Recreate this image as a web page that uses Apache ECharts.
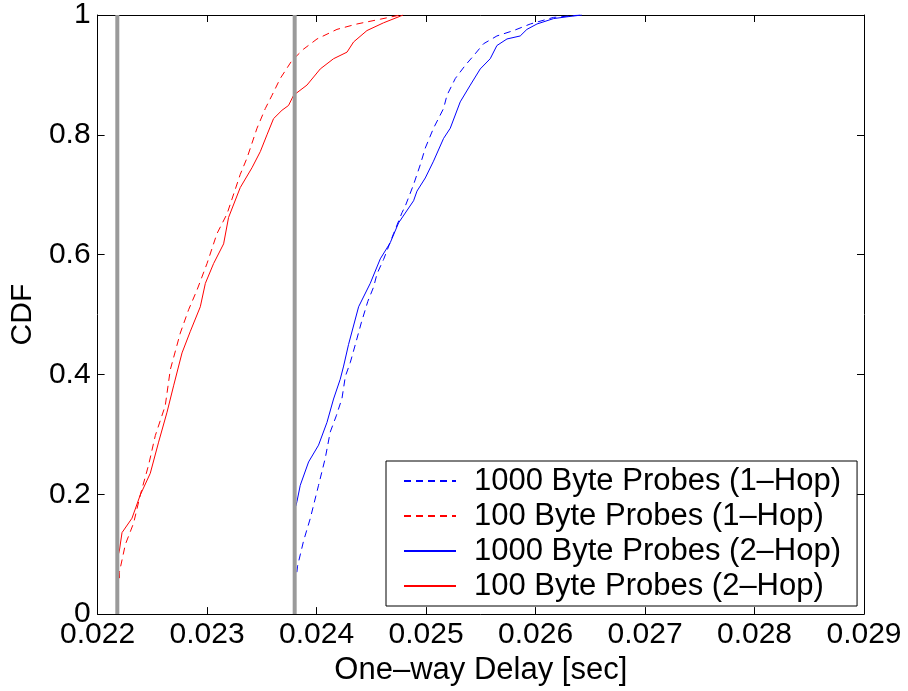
<!DOCTYPE html>
<html>
<head>
<meta charset="utf-8">
<script src="https://cdn.jsdelivr.net/npm/echarts@6/dist/echarts.min.js"></script>
<style>
  html, body { margin: 0; padding: 0; background: #fff; }
  #chart { width: 908px; height: 691px; }
</style>
</head>
<body>
<div id="chart"></div>
<script>
// One-way delay CDFs, each curve as [delay (s), cumulative fraction] pairs
const seriesNames = [
  '1000 Byte Probes (1\u2013Hop)',
  '100 Byte Probes (1\u2013Hop)',
  '1000 Byte Probes (2\u2013Hop)',
  '100 Byte Probes (2\u2013Hop)'
];

const blue1Hop = [
  [0.02382, 0.07], [0.023826, 0.080], [0.023881, 0.122], [0.023943, 0.160], [0.024018, 0.215],
  [0.024079, 0.260], [0.024125, 0.304], [0.024180, 0.331], [0.024232, 0.360], [0.024263, 0.397],
  [0.024308, 0.420], [0.024354, 0.450], [0.024408, 0.486], [0.024468, 0.522], [0.024521, 0.546],
  [0.024552, 0.568], [0.024612, 0.592], [0.024703, 0.635], [0.024780, 0.670], [0.024810, 0.681],
  [0.024886, 0.717], [0.024947, 0.750], [0.024993, 0.778], [0.025068, 0.811], [0.025160, 0.844],
  [0.025191, 0.866], [0.025267, 0.894], [0.025358, 0.916], [0.025434, 0.932], [0.025525, 0.952],
  [0.025647, 0.965], [0.025799, 0.974], [0.025952, 0.985], [0.026164, 0.996], [0.026287, 0.998],
  [0.026408, 1.0]
];

const red1Hop = [
  [0.02220, 0.06], [0.022198, 0.069], [0.022253, 0.116], [0.022329, 0.152], [0.022390, 0.199],
  [0.022466, 0.249], [0.022527, 0.298], [0.022618, 0.348], [0.022664, 0.408], [0.022755, 0.469],
  [0.022831, 0.508], [0.022908, 0.541], [0.022999, 0.585], [0.023090, 0.635], [0.023182, 0.668],
  [0.023303, 0.734], [0.023364, 0.761], [0.023456, 0.811], [0.023532, 0.844], [0.023593, 0.866],
  [0.023668, 0.894], [0.023775, 0.924], [0.023881, 0.943], [0.024004, 0.960], [0.024186, 0.976],
  [0.024369, 0.985], [0.024582, 0.993], [0.024764, 1.0]
];

const blue2Hop = [
  [0.02381, 0.18], [0.023821, 0.188], [0.023851, 0.215], [0.023927, 0.254], [0.024018, 0.282],
  [0.024095, 0.320], [0.024155, 0.359], [0.024216, 0.392], [0.024247, 0.414], [0.024292, 0.450],
  [0.024384, 0.513], [0.024490, 0.552], [0.024582, 0.593], [0.024673, 0.620], [0.024749, 0.653],
  [0.024886, 0.690], [0.024917, 0.706], [0.024993, 0.728], [0.025068, 0.756], [0.025160, 0.794],
  [0.025221, 0.811], [0.025312, 0.855], [0.025404, 0.883], [0.025495, 0.910], [0.025586, 0.927],
  [0.025647, 0.949], [0.025739, 0.960], [0.025860, 0.965], [0.025921, 0.976], [0.026013, 0.985],
  [0.026164, 0.994], [0.026287, 0.997], [0.026424, 1.0]
];

const red2Hop = [
  [0.02219, 0.10], [0.022198, 0.105], [0.022223, 0.136], [0.022314, 0.160], [0.022390, 0.199],
  [0.022481, 0.235], [0.022557, 0.287], [0.022634, 0.337], [0.022694, 0.381], [0.022771, 0.436],
  [0.022847, 0.472], [0.022938, 0.513], [0.022984, 0.552], [0.023059, 0.585], [0.023151, 0.618],
  [0.023196, 0.662], [0.023303, 0.712], [0.023410, 0.745], [0.023486, 0.772], [0.023547, 0.800],
  [0.023607, 0.827], [0.023684, 0.841], [0.023744, 0.849], [0.023790, 0.866], [0.023912, 0.883],
  [0.024034, 0.910], [0.024155, 0.927], [0.024278, 0.938], [0.024338, 0.955], [0.024460, 0.974],
  [0.024612, 0.987], [0.024764, 0.998], [0.02479, 1.0]
];

// Minimum-delay reference lines (s)
const referenceDelays = [0.02218, 0.0238];

const xMin = 0.022, xMax = 0.029, xStep = 0.001;
const yMin = 0, yMax = 1, yStep = 0.2;

const FONT = '"Liberation Sans", Arial, Helvetica, sans-serif';
const BLUE = '#0000ff', RED = '#ff0000', GRAY = '#9a9a9a';
const DASH = [7, 5];

function curve(name, data, color, dashed) {
  return {
    name, type: 'line', data, symbol: 'none', animation: false,
    lineStyle: { color, width: 1, type: dashed ? DASH : 'solid' },
    itemStyle: { color },
    z: 2
  };
}

const refSeries = referenceDelays.map((d) => ({
  type: 'line', symbol: 'none', animation: false, silent: true,
  data: [[d, yMin], [d, yMax]],
  lineStyle: { color: GRAY, width: 4 },
  z: 3
}));

const tickCommon = { show: true, inside: true, length: 7, lineStyle: { color: '#000', width: 1 } };
const lineCommon = { show: true, onZero: false, lineStyle: { color: '#000', width: 1 } };

const chart = echarts.init(document.getElementById('chart'), null, { renderer: 'canvas' });
chart.setOption({
  backgroundColor: '#ffffff',
  animation: false,
  textStyle: { fontFamily: FONT },
  grid: { left: 97, top: 12, right: 44, bottom: 74, containLabel: false },
  xAxis: [
    {
      type: 'value', min: xMin, max: xMax, interval: xStep, position: 'bottom',
      name: 'One\u2013way Delay [sec]', nameLocation: 'middle', nameGap: 27,
      nameTextStyle: { fontSize: 31, color: '#000', fontFamily: FONT },
      axisLine: lineCommon, axisTick: tickCommon, splitLine: { show: false },
      axisLabel: {
        fontSize: 30, color: '#000', margin: 6, fontFamily: FONT,
        formatter: (v) => v.toFixed(3)
      }
    },
    {
      type: 'value', min: xMin, max: xMax, interval: xStep, position: 'top',
      axisLine: lineCommon, axisTick: tickCommon, splitLine: { show: false },
      axisLabel: { show: false }
    }
  ],
  yAxis: [
    {
      type: 'value', min: yMin, max: yMax, interval: yStep, position: 'left',
      name: 'CDF', nameLocation: 'middle', nameGap: 59, nameRotate: 90,
      nameTextStyle: { fontSize: 30, color: '#000', fontFamily: FONT },
      axisLine: lineCommon, axisTick: tickCommon, splitLine: { show: false },
      axisLabel: {
        fontSize: 30, color: '#000', margin: 7, fontFamily: FONT,
        formatter: (v) => String(Math.round(v * 10) / 10)
      }
    },
    {
      type: 'value', min: yMin, max: yMax, interval: yStep, position: 'right',
      axisLine: lineCommon, axisTick: tickCommon, splitLine: { show: false },
      axisLabel: { show: false }
    }
  ],
  legend: {
    data: seriesNames,
    orient: 'vertical',
    left: 386, top: 461,
    padding: [4, 16, 4, 17],
    itemWidth: 52, itemHeight: 14, itemGap: 3,
    itemStyle: { opacity: 0 },
    backgroundColor: '#fff', borderColor: '#000', borderWidth: 1, borderRadius: 0,
    textStyle: { fontSize: 31, color: '#000', fontFamily: FONT, lineHeight: 32, padding: [0, 0, 0, 13] },
    selectedMode: false
  },
  series: [
    curve(seriesNames[0], blue1Hop, BLUE, true),
    curve(seriesNames[1], red1Hop, RED, true),
    curve(seriesNames[2], blue2Hop, BLUE, false),
    curve(seriesNames[3], red2Hop, RED, false),
    ...refSeries
  ]
});
</script>
</body>
</html>
